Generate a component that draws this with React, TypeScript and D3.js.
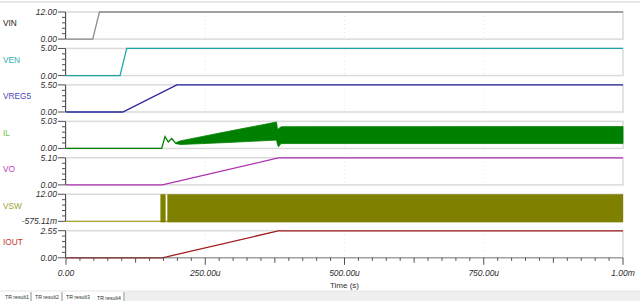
import React from "react";
import * as d3 from "d3";

// ---------- data (time in microseconds) ----------
const signalNames = ["VIN", "VEN", "VREG5", "IL", "VO", "VSW", "IOUT"];
const axisMax = [12.0, 5.0, 5.5, 5.03, 5.1, 12.0, 2.55];
const axisMin = [0, 0, 0, 0, 0, -0.57511, 0];
const axisMaxLabels = ["12.00", "5.00", "5.50", "5.03", "5.10", "12.00", "2.55"];
const axisMinLabels = ["0.00", "0.00", "0.00", "0.00", "0.00", "-575.11m", "0.00"];

const vinT = [0, 48, 60, 1000];
const vinV = [0, 0, 12, 12];
const venT = [0, 97, 109, 1000];
const venV = [0, 0, 5, 5];
const vreg5T = [0, 102, 199, 1000];
const vreg5V = [0, 0, 5.5, 5.5];
const voT = [0, 173, 381, 1000];
const voV = [0, 0, 5.08, 5.08];
const ioutT = [0, 173, 381, 1000];
const ioutV = [0, 0, 2.53, 2.53];

// IL start-up trace (thin line) and switching-ripple envelope (band)
const ilT = [0, 171.8, 177.7, 183.7, 189.8, 197.5, 204.7];
const ilV = [0, 0, 2.2, 1.2, 1.85, 0.91, 1.0];
const ilBandT = [198, 205, 290, 378, 379.5, 381.5, 384, 387, 1000];
const ilHi = [1.1, 1.4, 3.15, 4.9, 3.7, 3.6, 3.9, 4.04, 4.06];
const ilLo = [0.9, 0.73, 1.1, 1.55, 0.8, 0.29, 0.7, 0.91, 0.91];

// VSW: baseline and switching bursts [start, end]
const vswBase = -0.57511;
const vswHigh = 12.0;
const vswBursts = [
  [169.5, 178.9],
  [181.9, 1000],
];

const xMajorTicks = [0, 250, 500, 750, 1000];
const xMajorLabels = ["0.00", "250.00u", "500.00u", "750.00u", "1.00m"];
const gridTimes = [250, 500, 750];
const tabLabels = ["TR result1", "TR result2", "TR result3", "TR result4"];

// ---------- styles ----------
const lineColors = ["#8c8c8c", "#1fa5a5", "#25259c", "#008000", "#b030b0", "#808000", "#a01e1e"];
const labelColors = ["#1a1a1a", "#2fb0b0", "#4a4ab4", "#78c03c", "#c040c0", "#a0a030", "#c83838"];

const W = 640;
const H = 301;
const X0 = 66;
const X1 = 623;
const TOP0 = 12;
const PITCH = 36.45;
const PH = 27.1;
const FONT = "'Liberation Sans', Arial, sans-serif";

export default function App() {
  const x = d3.scaleLinear().domain([0, 1000]).range([X0, X1]);

  const panelTop = (i: number) => TOP0 + i * PITCH;
  const yScale = (i: number) =>
    d3.scaleLinear().domain([axisMin[i], axisMax[i]]).range([panelTop(i) + PH, panelTop(i)]);

  const simpleSeries: Record<number, [number[], number[]]> = {
    0: [vinT, vinV],
    1: [venT, venV],
    2: [vreg5T, vreg5V],
    4: [voT, voV],
    6: [ioutT, ioutV],
  };

  const lineFor = (ts: number[], vs: number[], y: d3.ScaleLinear<number, number>) =>
    d3.line<number>().x((_, k) => x(ts[k])).y((_, k) => y(vs[k]))(ts) || "";

  const xMinor = d3.range(0, 1001, 25);
  const tabX = [5, 35, 66, 97];
  const sepX = [31, 62, 124];

  return (
    <svg width={W} height={H} style={{ position: "absolute", left: 0, top: 0, background: "#fff" }}>
      <rect x={0} y={0} width={W} height={H} fill="#ffffff" />
      <line x1={0} x2={W} y1={2} y2={2} stroke="#cfcfcf" strokeWidth={1.2} />

      {signalNames.map((name, i) => {
        const y = yScale(i);
        const top = panelTop(i);
        const bot = top + PH;
        const yt = d3.range(0, 6).map((k) => top + (k * PH) / 5);
        let content: React.ReactNode = null;
        if (simpleSeries[i]) {
          const [ts, vs] = simpleSeries[i];
          content = <path d={lineFor(ts, vs, y)} fill="none" stroke={lineColors[i]} strokeWidth={1.3} />;
        } else if (i === 3) {
          const area = d3
            .area<number>()
            .x((_, k) => x(ilBandT[k]))
            .y0((_, k) => y(ilLo[k]))
            .y1((_, k) => y(ilHi[k]))(ilBandT) || "";
          content = (
            <g>
              <path d={lineFor(ilT, ilV, y)} fill="none" stroke={lineColors[i]} strokeWidth={1.3} />
              <path d={area} fill={lineColors[i]} stroke={lineColors[i]} strokeWidth={0.8} />
            </g>
          );
        } else if (i === 5) {
          content = (
            <g>
              <line x1={x(0)} x2={x(1000)} y1={y(vswBase)} y2={y(vswBase)} stroke="#a8a830" strokeWidth={1.3} />
              {vswBursts.map((b, k) => (
                <rect
                  key={k}
                  x={x(b[0])}
                  width={x(b[1]) - x(b[0])}
                  y={y(vswHigh)}
                  height={y(vswBase) - y(vswHigh) + 1}
                  fill={lineColors[i]}
                />
              ))}
            </g>
          );
        }
        return (
          <g key={name}>
            <rect x={X0} y={top} width={X1 - X0} height={PH} fill="none" stroke="#dadada" strokeWidth={1.5} />
            {gridTimes.map((t) => (
              <line
                key={t}
                x1={x(t)}
                x2={x(t)}
                y1={top}
                y2={bot}
                stroke="#e6e6e6"
                strokeWidth={1}
                strokeDasharray="1,3"
              />
            ))}
            {content}
            <line x1={X0 - 0.5} x2={X0 - 0.5} y1={top} y2={bot} stroke="#505050" strokeWidth={1} />
            {yt.map((ty, k) => (
              <line
                key={k}
                x1={k === 0 || k === 5 ? X0 - 8 : X0 - 4}
                x2={X0 - 0.5}
                y1={ty}
                y2={ty}
                stroke="#505050"
                strokeWidth={1}
              />
            ))}
            <text
              x={57}
              y={top}
              dy="0.35em"
              textAnchor="end"
              fontFamily={FONT}
              fontStyle="italic"
              fontSize={8.5}
              fill="#303030"
            >
              {axisMaxLabels[i]}
            </text>
            <text
              x={57}
              y={bot}
              dy="0.35em"
              textAnchor="end"
              fontFamily={FONT}
              fontStyle="italic"
              fontSize={8.5}
              fill="#303030"
            >
              {axisMinLabels[i]}
            </text>
            <text x={3} y={top + PH / 2 - 2} dy="0.35em" fontFamily={FONT} fontSize={8.3} fill={labelColors[i]}>
              {name}
            </text>
          </g>
        );
      })}

      {/* x axis */}
      <line x1={X0} x2={X1} y1={panelTop(6) + PH} y2={panelTop(6) + PH} stroke="#505050" strokeWidth={0.6} />
      {xMinor.map((t) => {
        const big = t % 250 === 0;
        const mid = !big && t % 125 === 0;
        const len = big ? 7 : mid ? 5 : 3;
        const y0 = panelTop(6) + PH;
        return <line key={t} x1={x(t)} x2={x(t)} y1={y0} y2={y0 + len} stroke="#505050" strokeWidth={1} />;
      })}
      {xMajorTicks.map((t, k) => (
        <text
          key={t}
          x={x(t)}
          y={273}
          dy="0.35em"
          textAnchor="middle"
          fontFamily={FONT}
          fontStyle="italic"
          fontSize={8.5}
          fill="#303030"
        >
          {xMajorLabels[k]}
        </text>
      ))}
      <text x={x(500)} y={285} dy="0.35em" textAnchor="middle" fontFamily={FONT} fontSize={8} fill="#303030">
        Time (s)
      </text>

      {/* tabs */}
      <rect x={125} y={291} width={W - 125} height={10} fill="#efefef" />
      <line x1={0} x2={W} y1={291} y2={291} stroke="#e6e6e6" strokeWidth={1} />
      {tabLabels.map((t, k) => (
        <text
          key={t}
          x={tabX[k]}
          y={k === 3 ? 298.5 : 297.5}
          dy="0.35em"
          fontFamily={FONT}
          fontSize={5.2}
          fill="#303030"
        >
          {t}
        </text>
      ))}
      {sepX.map((sx) => (
        <line key={sx} x1={sx} x2={sx} y1={292} y2={301} stroke="#707070" strokeWidth={0.8} />
      ))}
    </svg>
  );
}
